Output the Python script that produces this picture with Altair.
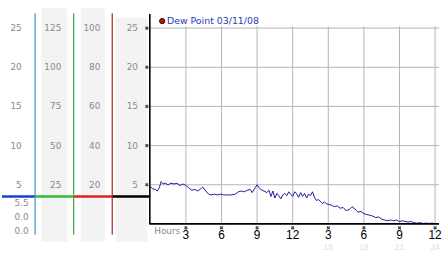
import altair as alt
import pandas as pd

# ---- data ----
hours = [0.0, 0.17, 0.42, 0.58, 0.75, 0.92, 1.08, 1.25, 1.5, 1.75, 2.0, 2.25, 2.5, 2.75,
         3.0, 3.25, 3.5, 3.75, 4.0, 4.25, 4.42, 4.67, 4.92, 5.17, 5.42, 5.67, 5.92, 6.17,
         6.5, 6.83, 7.17, 7.42, 7.67, 7.92, 8.17, 8.42, 8.58, 8.83, 9.0, 9.17, 9.33, 9.58,
         9.83, 10.0, 10.17, 10.33, 10.5, 10.67, 10.83, 11.0, 11.17, 11.33, 11.5, 11.67,
         11.83, 12.0, 12.17, 12.33, 12.5, 12.67, 12.83, 13.0, 13.17, 13.33, 13.5, 13.67,
         13.83, 14.0, 14.17, 14.33, 14.5, 14.67, 14.83, 15.0, 15.25, 15.5, 15.75, 16.0,
         16.25, 16.5, 16.75, 17.0, 17.25, 17.5, 17.75, 18.0, 18.25, 18.5, 18.75, 19.0,
         19.25, 19.5, 19.75, 20.0, 20.25, 20.5, 20.75, 21.0, 21.25, 21.5, 21.75, 22.0,
         22.25, 22.5, 22.75, 23.0, 23.25, 23.5, 23.75, 24.0]
dew_point = [4.8, 4.5, 4.4, 4.2, 4.6, 5.4, 5.1, 5.2, 5.0, 5.2, 5.1, 5.2, 4.9, 5.1,
             4.9, 4.6, 4.3, 4.4, 4.2, 4.5, 4.7, 4.2, 3.8, 3.7, 3.8, 3.7, 3.8, 3.7,
             3.7, 3.7, 3.8, 4.1, 4.2, 4.1, 4.3, 4.4, 4.0, 4.6, 5.0, 4.6, 4.4, 4.2,
             4.0, 4.3, 3.5, 4.2, 3.3, 3.9, 3.6, 3.2, 3.7, 3.9, 3.6, 4.1,
             3.8, 3.5, 4.1, 3.9, 3.4, 4.0, 3.5, 3.9, 3.3, 3.8, 3.6, 4.1,
             3.4, 3.0, 3.1, 2.9, 2.6, 2.8, 2.6, 2.5, 2.4, 2.2, 2.3, 2.0,
             2.1, 1.7, 1.8, 2.2, 1.9, 1.5, 1.6, 1.3, 1.2, 1.1, 1.0, 0.8,
             0.9, 0.6, 0.5, 0.4, 0.5, 0.4, 0.5, 0.3, 0.4, 0.3, 0.25, 0.3,
             0.15, 0.1, 0.15, 0.05, 0.1, 0.05, 0.1, 0.0]

col1_ticks = [25, 20, 15, 10, 5]
col2_ticks = [125, 100, 75, 50, 25]
col3_ticks = [100, 80, 60, 40, 20]
col4_ticks = [25, 20, 15, 10, 5]
current_readings = ["5.5", "0.0", "0.0"]
marker_level = 3.5
grid_values = [5, 10, 15, 20, 25]
x_ticks = [3, 6, 9, 12, 15, 18, 21, 24]
x_tick_labels = ["3", "6", "9", "12", "3", "6", "9", "12"]
faint_ticks = [15, 18, 21, 24]
faint_labels = ["15", "18", "21", "24"]
legend_label = "Dew Point 03/11/08"
axis_title = "Hours"

# ---- layout ----
H = 253
YLO, YHI = -3.535, 28.41
GRAY_BG = "#f3f3f3"
LABEL_GRAY = "#8a8a8a"
FONT = "DejaVu Sans"
one = alt.Data(values=[{}])


def yscale(f=1.0):
    return alt.Scale(domain=[YLO * f, YHI * f], nice=False, zero=False)


def side_panel(width, ticks, factor, label_x, vline_color, vline_x, hline_color,
               gray=None, extra=None):
    ys = yscale(factor)
    layers = []
    if gray is not None:
        layers.append(alt.Chart(one).mark_rect(color=GRAY_BG).encode(
            x=alt.value(gray[0]), x2=alt.value(gray[1]),
            y=alt.value(gray[2]), y2=alt.value(gray[3])))
    layers.append(alt.Chart(pd.DataFrame({"v": ticks, "t": [str(t) for t in ticks]}))
                  .mark_text(align="right", baseline="middle", font=FONT, fontSize=9,
                             color=LABEL_GRAY)
                  .encode(y=alt.Y("v:Q", scale=ys, axis=None), x=alt.value(label_x),
                          text="t:N"))
    if extra is not None:
        layers.append(extra)
    layers.append(alt.Chart(pd.DataFrame({"v": [marker_level * factor]}))
                  .mark_rule(color=hline_color, strokeWidth=2.5)
                  .encode(y=alt.Y("v:Q", scale=ys, axis=None),
                          x=alt.value(0), x2=alt.value(width)))
    if vline_color is not None:
        layers.append(alt.Chart(one).mark_rule(color=vline_color, strokeWidth=1.2).encode(
            x=alt.value(vline_x), y=alt.value(12), y2=alt.value(236)))
    return alt.layer(*layers).properties(width=width, height=H)


readings_df = pd.DataFrame({"t": current_readings, "row": [0, 1, 2]})
readings = alt.Chart(readings_df).mark_text(
    align="right", baseline="middle", font=FONT, fontSize=9, color=LABEL_GRAY
).encode(
    x=alt.value(27),
    y=alt.Y("row:O", scale=alt.Scale(range=[197, 239]), axis=None),
    text="t:N")

pA = side_panel(34, col1_ticks, 1, 20, "#3399cc", 33.5, "#1a3fcc", extra=readings)
pB = side_panel(39, col2_ticks, 5, 26, "#33aa33", 38.5, "#33bb33", gray=(6, 32, 7, 243))
pC = side_panel(39, col3_ticks, 4, 26.5, "#aa2222", 38.5, "#dd2222", gray=(7, 31, 7, 243))
pD = side_panel(37, col4_ticks, 1, 25.5, None, None, "#000000", gray=(3, 35, 16, 243))

# ---- main panel ----
W = 293
xs = alt.Scale(domain=[-1 / 12, 24.333], nice=False, zero=False)
ys = yscale()

hgrid = alt.Chart(pd.DataFrame({"v": grid_values})).mark_rule(color="#b5b5b5").encode(
    y=alt.Y("v:Q", scale=ys, axis=None), x=alt.value(0), x2=alt.value(W))
vgrid = alt.Chart(pd.DataFrame({"h": x_ticks, "y0": 0, "y1": 25.25})).mark_rule(
    color="#b5b5b5").encode(
    x=alt.X("h:Q", scale=xs, axis=None),
    y=alt.Y("y0:Q", scale=ys, axis=None), y2="y1:Q")
yaxis = alt.Chart(pd.DataFrame({"h": [-0.04], "y0": [0], "y1": [26.8]})).mark_rule(
    color="#000", strokeWidth=1.6).encode(
    x=alt.X("h:Q", scale=xs, axis=None),
    y=alt.Y("y0:Q", scale=ys, axis=None), y2="y1:Q")
xaxis = alt.Chart(pd.DataFrame({"v": [0]})).mark_rule(color="#000", strokeWidth=1.6).encode(
    y=alt.Y("v:Q", scale=ys, axis=None), x=alt.value(0), x2=alt.value(W))
ycross = alt.Chart(pd.DataFrame({"v": grid_values, "h": -0.29})).mark_point(
    shape="cross", angle=45, size=14, filled=True, color="#000").encode(
    x=alt.X("h:Q", scale=xs, axis=None), y=alt.Y("v:Q", scale=ys, axis=None))
xcross = alt.Chart(pd.DataFrame({"h": x_ticks})).mark_point(
    shape="cross", angle=45, size=14, filled=True, color="#000").encode(
    x=alt.X("h:Q", scale=xs, axis=None), y=alt.value(229))
xlabels = alt.Chart(pd.DataFrame({"h": x_ticks, "t": x_tick_labels})).mark_text(
    font="Liberation Sans", fontSize=12, color="#000", baseline="middle").encode(
    x=alt.X("h:Q", scale=xs, axis=None), y=alt.value(236.5), text="t:N")
faint = alt.Chart(pd.DataFrame({"h": faint_ticks, "t": faint_labels})).mark_text(
    font="Liberation Sans", fontSize=8.5, color="#e0e0e0", baseline="bottom").encode(
    x=alt.X("h:Q", scale=xs, axis=None), y=alt.value(253), text="t:N")
htitle = alt.Chart(pd.DataFrame({"h": [0.33], "t": [axis_title]})).mark_text(
    font=FONT, fontSize=9, color=LABEL_GRAY, align="left", baseline="middle").encode(
    x=alt.X("h:Q", scale=xs, axis=None), y=alt.value(232), text="t:N")
line = alt.Chart(pd.DataFrame({"h": hours, "v": dew_point})).mark_line(
    color="#1c1ca0", strokeWidth=1).encode(
    x=alt.X("h:Q", scale=xs, axis=None), y=alt.Y("v:Q", scale=ys, axis=None))
leg_dot = alt.Chart(pd.DataFrame({"h": [1.0], "v": [25.9]})).mark_point(
    shape="circle", filled=True, size=28, color="#b01515", stroke="#4a0000",
    strokeWidth=1, opacity=1).encode(
    x=alt.X("h:Q", scale=xs, axis=None), y=alt.Y("v:Q", scale=ys, axis=None))
leg_text = alt.Chart(pd.DataFrame({"h": [1.4], "v": [25.9], "t": [legend_label]})).mark_text(
    font=FONT, fontSize=9.5, color="#2a3ab0", align="left", baseline="middle").encode(
    x=alt.X("h:Q", scale=xs, axis=None), y=alt.Y("v:Q", scale=ys, axis=None), text="t:N")

main = alt.layer(hgrid, vgrid, line, xaxis, yaxis, ycross, xcross, xlabels, faint,
                 htitle, leg_dot, leg_text).properties(width=W, height=H)

chart = alt.hconcat(pA, pB, pC, pD, main, spacing=0, bounds="flush").properties(
    padding=0, background="#ffffff").configure_view(stroke=None)

chart.save("out.html", embed_options={"renderer": "svg", "actions": False})
